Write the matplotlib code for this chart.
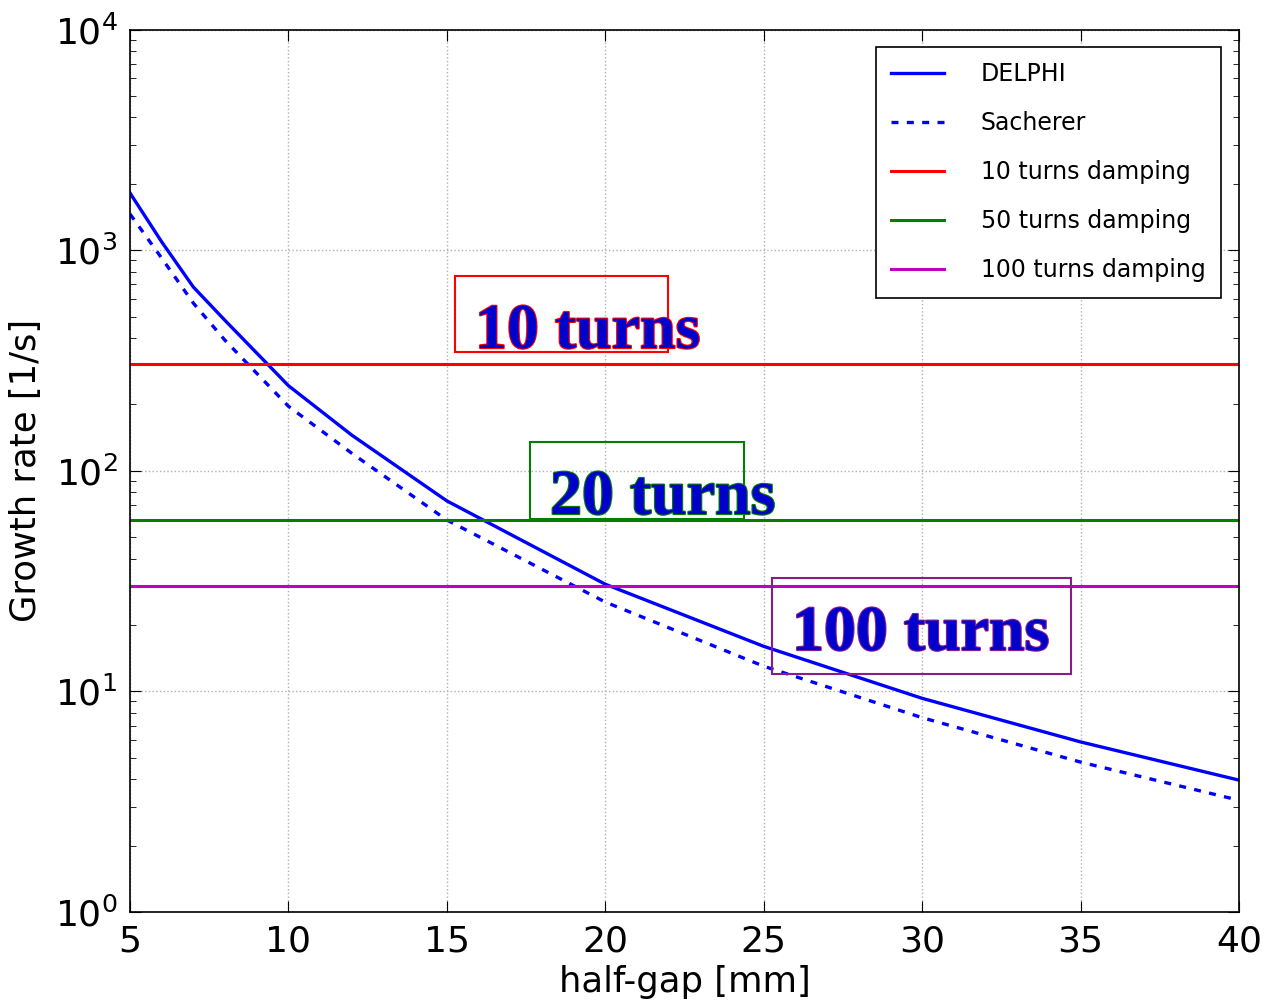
import numpy as np
import matplotlib
matplotlib.use("Agg")
import matplotlib.pyplot as plt
from matplotlib.patches import Rectangle
import matplotlib.patheffects as pe

# ---- data ----
half_gap = [5, 6, 7, 8, 10, 12, 15, 20, 25, 30, 35, 40]
delphi = [1815, 1090, 680, 480, 243, 145, 73, 30.6, 16.0, 9.3, 5.9, 3.96]
sacherer = [1458, 920, 575, 390, 196, 120, 59.8, 25.4, 13.0, 7.6, 4.78, 3.21]
damp_labels = ["10 turns damping", "50 turns damping", "100 turns damping"]
damp_values = [305, 60, 30]
damp_colors = ["red", "green", "m"]

box_texts = ["10 turns", "20 turns", "100 turns"]
xticks = [5, 10, 15, 20, 25, 30, 35, 40]

W, H = 1276, 1001
fig = plt.figure(figsize=(W / 100, H / 100), dpi=100)
ax = fig.add_axes([130 / W, 1 - 912 / H, (1239 - 130) / W, (912 - 29.5) / H])

ax.semilogy(half_gap, delphi, '-', color='blue', lw=2.4, label='DELPHI')
ax.semilogy(half_gap, sacherer, '--', color='blue', lw=2.4, label='Sacherer',
            dashes=(2.1, 2.5))
for lab, v, c in zip(damp_labels, damp_values, damp_colors):
    ax.axhline(v, color=c, lw=2.2, label=lab)

ax.set_xlim(5, 40)
ax.set_ylim(1, 1e4)
ax.set_xticks(xticks)
ax.grid(True, which='major', color='#b0b0b0', linestyle=':', linewidth=1)
ax.tick_params(which='both', direction='in', top=True, right=True, labelsize=26)
ax.tick_params(axis='x', which='major', pad=9)
ax.tick_params(axis='y', which='major', pad=9)
ax.tick_params(which='major', length=8)
ax.tick_params(which='minor', length=4)
for s in ax.spines.values():
    s.set_linewidth(1.2)
ax.set_xlabel('half-gap [mm]', fontsize=25.5, labelpad=5)
ax.set_ylabel('Growth rate [1/s]', fontsize=25.5, labelpad=8)

leg = ax.legend(loc='upper right', fontsize=17, labelspacing=1.06,
                handlelength=2.25, handletextpad=1.55, borderpad=0.65,
                borderaxespad=0, fancybox=False, edgecolor='black', framealpha=1,
                bbox_to_anchor=(1221 / W, 1 - 47 / H), bbox_transform=fig.transFigure)
leg.get_frame().set_linewidth(1.2)

# ---- overlaid boxes and labels (figure pixel coordinates) ----
def fig_xy(px, py):
    return px / W, 1 - py / H

boxes = [((455, 276, 668, 352), 'red'),
         ((530, 442, 744, 519), 'green'),
         ((772, 578, 1071, 674), '#8b1a8b')]
text_pos = [(475, 348), (550, 514), (792, 650)]
for (b, ec), t, (tx, ty) in zip(boxes, box_texts, text_pos):
    x0, y0 = fig_xy(b[0], b[3])
    r = Rectangle((x0, y0), (b[2] - b[0]) / W, (b[3] - b[1]) / H,
                  transform=fig.transFigure, fill=False, edgecolor=ec, lw=1.5)
    fig.patches.append(r)
    fx, fy = fig_xy(tx, ty)
    fig.text(fx, fy, t, fontsize=46, fontweight='bold', family='Liberation Serif',
             color='#0000cc', ha='left', va='baseline',
             path_effects=[pe.withStroke(linewidth=1.6, foreground=ec)])

fig.savefig('out.png', dpi=100)
